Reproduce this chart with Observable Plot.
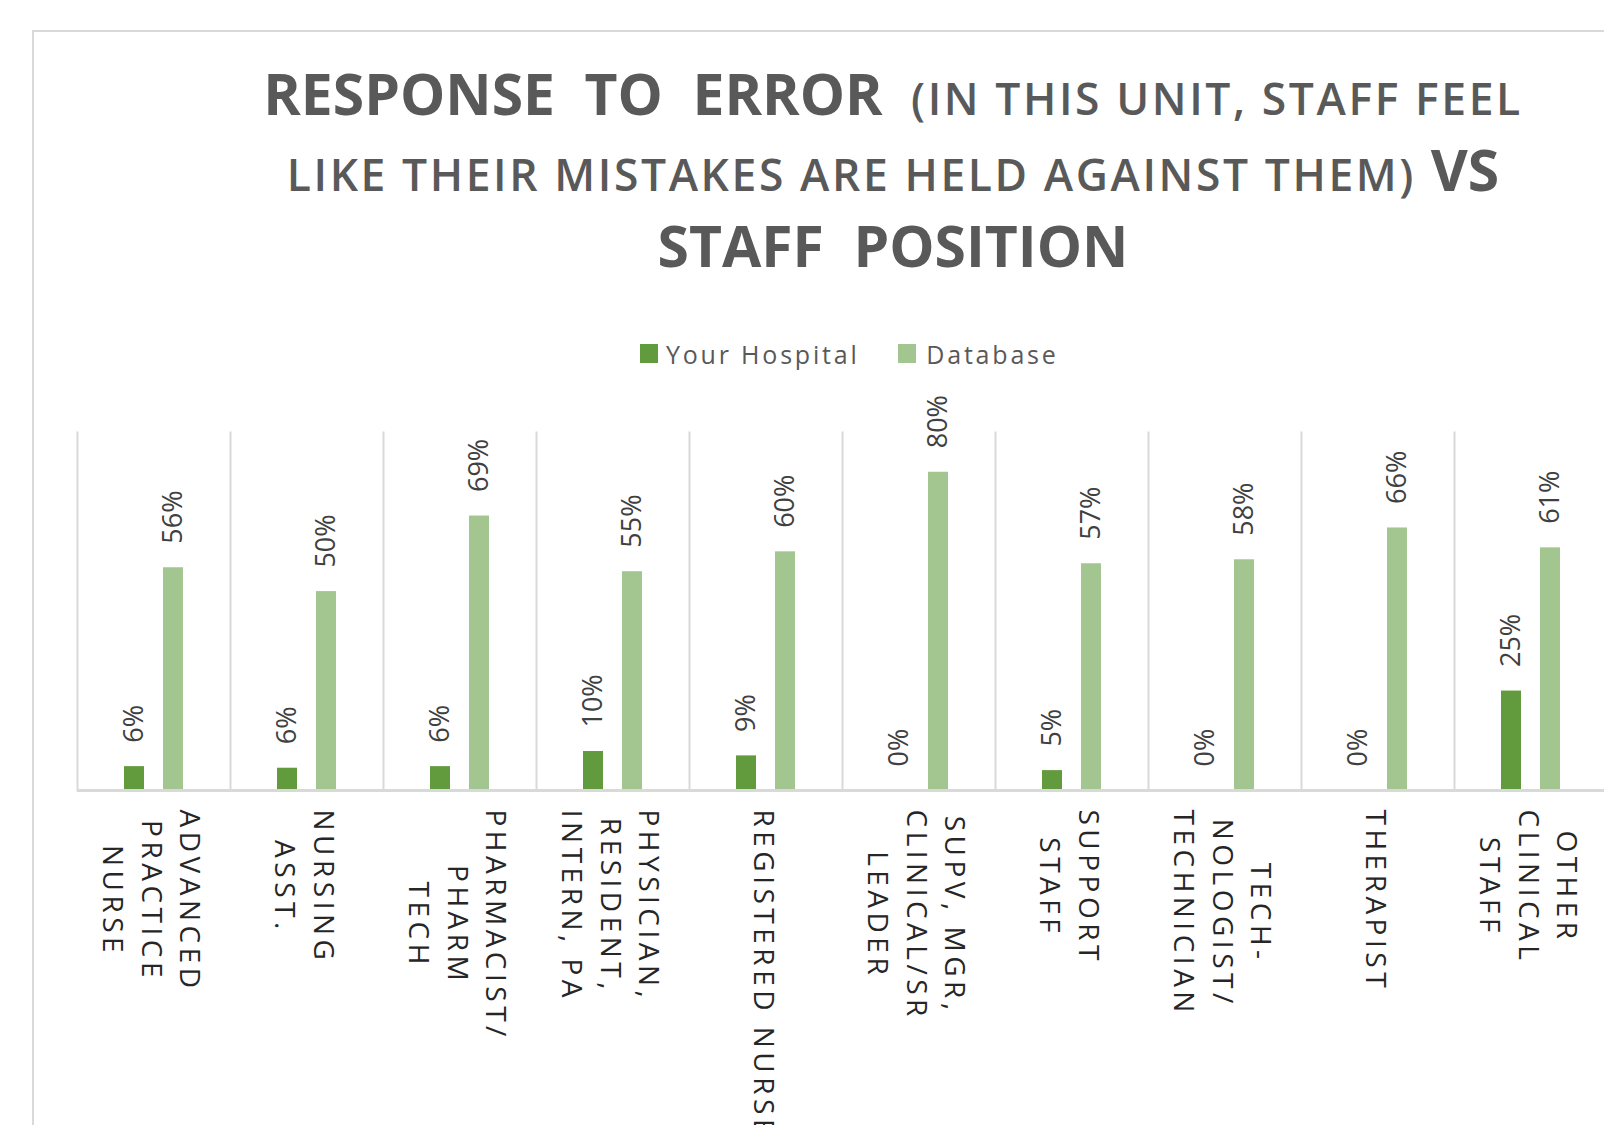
<!DOCTYPE html>
<html>
<head>
<meta charset="utf-8">
<script src="https://cdn.jsdelivr.net/npm/d3@7"></script>
<script src="https://cdn.jsdelivr.net/npm/@observablehq/plot@0.6"></script>
<style>
  html, body { margin: 0; padding: 0; background: #fff; }
  body { width: 1604px; height: 1125px; overflow: hidden; position: relative; font-family: "Open Sans", sans-serif; }
  #frame { position: absolute; left: 32px; top: 30px; width: 1722px; height: 1200px; border: 2px solid #d9d9d9; box-sizing: border-box; }
  #title { position: absolute; left: 32px; width: 1722px; top: 55px; text-align: center; color: #595959;
           font-family: "Open Sans"; font-weight: 700; font-size: 57px; line-height: 76px; white-space: pre; }
  #title .small { font-size: 44.4px; font-weight: 600; letter-spacing: 2.6px; line-height: 0; }
  #title .big { line-height: 0; }
  #legend { position: absolute; left: 640px; top: 344px; height: 19px; display: flex; align-items: center;
            font-family: "Open Sans"; font-size: 25px; color: #595959; letter-spacing: 2.8px; }
  #legend .sw { width: 18px; height: 19px; }
  #chart { position: absolute; left: 0; top: 380px; }
</style>
</head>
<body>
<div id="frame"></div>
<div id="title"></div>
<div id="legend"></div>
<div id="chart"></div>
<script>
// ---- data ----
const categoryNames = [
  "ADVANCED PRACTICE NURSE", "NURSING ASST.", "PHARMACIST/PHARM TECH",
  "PHYSICIAN, RESIDENT, INTERN, PA", "REGISTERED NURSE", "SUPV, MGR, CLINICAL/SR LEADER",
  "SUPPORT STAFF", "TECHNOLOGIST/TECHNICIAN", "THERAPIST", "OTHER CLINICAL STAFF"
];
const categoryLabels = [
  "ADVANCED\nPRACTICE\nNURSE", "NURSING\nASST.", "PHARMACIST/\nPHARM\nTECH",
  "PHYSICIAN,\nRESIDENT,\nINTERN, PA", "REGISTERED NURSE", "SUPV, MGR,\nCLINICAL/SR\nLEADER",
  "SUPPORT\nSTAFF", "TECH-\nNOLOGIST/\nTECHNICIAN", "THERAPIST", "OTHER\nCLINICAL\nSTAFF"
];
const seriesNames = ["Your Hospital", "Database"];
const seriesColors = ["#629a3e", "#a3c590"];
const yourHospital = [0.06, 0.056, 0.06, 0.098, 0.087, 0, 0.05, 0, 0, 0.25];
const database = [0.56, 0.50, 0.69, 0.55, 0.60, 0.80, 0.57, 0.58, 0.66, 0.61];

const titleLines = [
  [["big", "RESPONSE  TO  ERROR"], ["small", "  (IN THIS UNIT, STAFF FEEL"]],
  [["small", "LIKE THEIR MISTAKES ARE HELD AGAINST THEM)"], ["big", " VS"]],
  [["big", "STAFF  POSITION"]]
];

// ---- title ----
const titleEl = document.getElementById("title");
titleLines.forEach(parts => {
  const line = document.createElement("div");
  parts.forEach(([cls, txt]) => {
    const s = document.createElement("span");
    s.className = cls; s.textContent = txt; line.appendChild(s);
  });
  titleEl.appendChild(line);
});

// ---- legend ----
const legendEl = document.getElementById("legend");
seriesNames.forEach((name, i) => {
  const sw = document.createElement("div");
  sw.className = "sw"; sw.style.background = seriesColors[i];
  sw.style.marginRight = i === 0 ? "8px" : "10.7px";
  const tx = document.createElement("div");
  tx.textContent = name;
  if (i === 0) tx.style.marginRight = "38px";
  legendEl.appendChild(sw); legendEl.appendChild(tx);
});

// ---- rows ----
const rows = [];
categoryNames.forEach((c, i) => {
  rows.push({category: c, series: seriesNames[0], value: yourHospital[i]});
  rows.push({category: c, series: seriesNames[1], value: database[i]});
});
const labelRows = categoryNames.map((c, i) => ({category: c, label: categoryLabels[i]}));
const fmt = d3.format(".0%");
const labelFill = "#262626";

const chart = Plot.plot({
  width: 1620, height: 800,
  marginLeft: 77, marginRight: 13, marginTop: 52, marginBottom: 390,
  style: {maxWidth: "none", overflow: "visible", background: "none"},
  fx: {domain: categoryNames, padding: 0, axis: null},
  x: {domain: seriesNames, paddingInner: 0.475, paddingOuter: 1.18, axis: null},
  y: {domain: [0, 0.9], axis: null},
  color: {domain: seriesNames, range: seriesColors},
  marks: [
    Plot.frame({anchor: "left", stroke: "#d9d9d9", strokeWidth: 2}),
    Plot.barY(rows, {fx: "category", x: "series", y: "value", fill: "series"}),
    Plot.ruleY([0], {stroke: "#d9d9d9", strokeWidth: 3}),
    Plot.text(rows, {
      fx: "category", x: "series", y: "value", text: d => fmt(d.value),
      rotate: -90, textAnchor: "start", lineAnchor: "middle", dy: -24,
      fontSize: 27, fontFamily: "Open Sans", fill: "#404040"
    }),
    Plot.text(labelRows, {
      fx: "category", text: "label", frameAnchor: "bottom",
      rotate: 90, textAnchor: "middle", lineAnchor: "middle", lineHeight: 1.38, dy: 19,
      fontSize: 28, fontFamily: "Open Sans", fill: labelFill
    })
  ]
});
document.getElementById("chart").appendChild(chart);

// letter-spaced category labels, each block top-aligned below the axis with its lines centred on each other
chart.querySelectorAll(`g[fill="${labelFill}"] text`).forEach(t => {
  t.style.letterSpacing = "4.5px";
  const b = t.getBBox();
  t.setAttribute("transform", (t.getAttribute("transform") || "") + ` translate(${-b.x},0)`);
});
</script>
</body>
</html>
